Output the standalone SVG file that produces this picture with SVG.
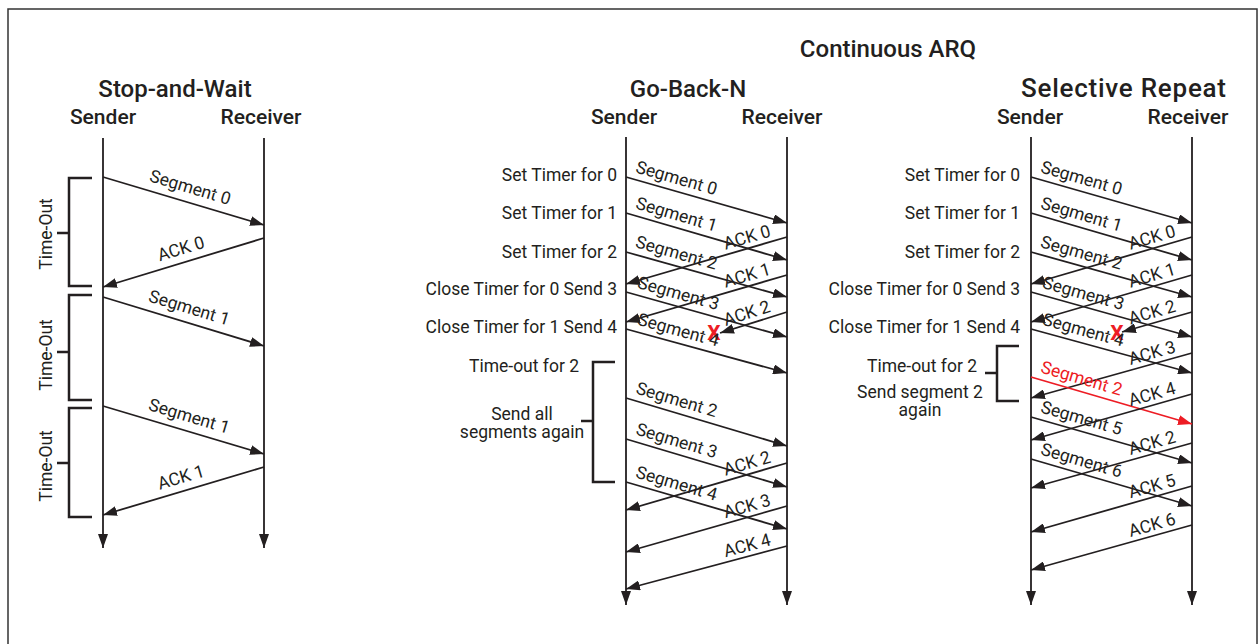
<svg xmlns="http://www.w3.org/2000/svg" width="1260" height="644" viewBox="0 0 1260 644">
<defs>
<marker id="ah" markerUnits="userSpaceOnUse" markerWidth="14" markerHeight="10" refX="14" refY="5" orient="auto"><path d="M0,0 L14,5 L0,10 z" fill="#231f20"/></marker>
<marker id="ahr" markerUnits="userSpaceOnUse" markerWidth="14" markerHeight="10" refX="14" refY="5" orient="auto"><path d="M0,0 L14,5 L0,10 z" fill="#ed1c24"/></marker>
<style>
.ln{stroke:#231f20;stroke-width:1.8;fill:none}
.a{marker-end:url(#ah)}
.red{stroke:#ed1c24;marker-end:url(#ahr)}
.br{stroke:#231f20;stroke-width:2.5;fill:none}
text{font-family:Roboto,'Liberation Sans',sans-serif;fill:#231f20}
.t1{font-size:24px;font-weight:500;text-anchor:middle}
.t2{font-size:21px;font-weight:500;text-anchor:middle}
.lb{font-size:17.5px}
.m{text-anchor:middle}
.e{text-anchor:end}
.x{font-size:21px;font-weight:700;fill:#ed1c24;text-anchor:middle}
.rt{fill:#ed1c24}
</style>
</defs>
<rect x="8" y="9" width="1249" height="700" fill="#fff" stroke="#333" stroke-width="1.5"/>

<g id="titles">
<text class="t1" x="888" y="57">Continuous ARQ</text>
<text class="t1" x="175" y="97">Stop-and-Wait</text>
<text class="t1" x="688" y="97">Go-Back-N</text>
<text class="t1" x="1123.5" y="97" style="font-size:26px" textLength="205" lengthAdjust="spacing">Selective Repeat</text>
</g>

<g id="sw-sender"><text class="t2" x="103" y="124">Sender</text><path class="ln a" d="M103,138 V548"/></g>
<g id="sw-receiver"><text class="t2" x="261" y="124">Receiver</text><path class="ln a" d="M264,138 V548"/></g>
<g id="gbn-sender"><text class="t2" x="624" y="124">Sender</text><path class="ln a" d="M626,137 V605"/></g>
<g id="gbn-receiver"><text class="t2" x="782" y="124">Receiver</text><path class="ln a" d="M787,137 V605"/></g>
<g id="sr-sender"><text class="t2" x="1030" y="124">Sender</text><path class="ln a" d="M1031,137 V605"/></g>
<g id="sr-receiver"><text class="t2" x="1188" y="124">Receiver</text><path class="ln a" d="M1192,137 V605"/></g>

<g id="sw-timeouts">
<path class="br" d="M92,178 H69 V286 H92 M69,233 H57"/>
<text class="lb m" transform="translate(52,234) rotate(-90)">Time-Out</text>
<path class="br" d="M92,295 H69 V400 H92 M69,352 H57"/>
<text class="lb m" transform="translate(52,355) rotate(-90)">Time-Out</text>
<path class="br" d="M92,408 H69 V517 H92 M69,463 H57"/>
<text class="lb m" transform="translate(52,466) rotate(-90)">Time-Out</text>
</g>

<g id="gbn-notes">
<text class="lb e" x="617" y="181">Set Timer for 0</text>
<text class="lb e" x="617" y="219">Set Timer for 1</text>
<text class="lb e" x="617" y="258">Set Timer for 2</text>
<text class="lb e" x="617" y="295">Close Timer for 0 Send 3</text>
<text class="lb e" x="617" y="333">Close Timer for 1 Send 4</text>
<text class="lb e" x="579" y="372">Time-out for 2</text>
<path class="br" d="M615,362 H593 V482 H615 M593,421 H581"/>
<text class="lb m" x="522" y="420">Send all</text>
<text class="lb m" x="522" y="438">segments again</text>
<text class="x" x="714" y="340">X</text>
</g>

<g id="sr-notes">
<text class="lb e" x="1020" y="181">Set Timer for 0</text>
<text class="lb e" x="1020" y="219">Set Timer for 1</text>
<text class="lb e" x="1020" y="258">Set Timer for 2</text>
<text class="lb e" x="1020" y="295">Close Timer for 0 Send 3</text>
<text class="lb e" x="1020" y="333">Close Timer for 1 Send 4</text>
<text class="lb e" x="977" y="372">Time-out for 2</text>
<path class="br" d="M1019,346 H997 V401 H1019 M997,373 H985"/>
<text class="lb m" x="920" y="398">Send segment 2</text>
<text class="lb m" x="920" y="416">again</text>
<text class="x" x="1117" y="340">X</text>
</g>

<g id="connectors">
<path class="ln a" d="M103,177 L264,225"/>
<text class="lb m" transform="translate(186,201.7) rotate(16.6)" y="-9">Segment 0</text>
<path class="ln a" d="M264,238 L103,287"/>
<text class="lb m" transform="translate(185,262) rotate(-16.9)" y="-8">ACK 0</text>
<path class="ln a" d="M103,297 L264,346"/>
<text class="lb m" transform="translate(185,322) rotate(16.9)" y="-9">Segment 1</text>
<path class="ln a" d="M103,406 L264,454"/>
<text class="lb m" transform="translate(185,430.4) rotate(16.6)" y="-9">Segment 1</text>
<path class="ln a" d="M264,467 L103,515"/>
<text class="lb m" transform="translate(185,490.6) rotate(-16.6)" y="-8">ACK 1</text>

<path class="ln a" d="M626,177 L787,223"/>
<text class="lb m" transform="translate(673,190.4) rotate(15.9)" y="-7">Segment 0</text>
<path class="ln a" d="M626,213 L787,260"/>
<text class="lb m" transform="translate(673,226.7) rotate(16.3)" y="-7">Segment 1</text>
<path class="ln a" d="M626,252 L787,297"/>
<text class="lb m" transform="translate(673,265.1) rotate(15.6)" y="-7">Segment 2</text>
<path class="ln a" d="M626,292 L787,337"/>
<text class="lb m" transform="translate(675,305.7) rotate(15.6)" y="-7">Segment 3</text>
<path class="ln a" d="M626,329 L787,373"/>
<text class="lb m" transform="translate(675,342.4) rotate(15.3)" y="-7">Segment 4</text>
<path class="ln a" d="M787,237 L626,284"/>
<text class="lb m" transform="translate(750,247.8) rotate(-16.3)" y="-5">ACK 0</text>
<path class="ln a" d="M787,275 L626,322"/>
<text class="lb m" transform="translate(750,285.8) rotate(-16.3)" y="-5">ACK 1</text>
<path class="ln a" d="M787,312 L720,333"/>
<text class="lb m" transform="translate(750,323.6) rotate(-17.4)" y="-5">ACK 2</text>
<path class="ln a" d="M626,398 L787,446"/>
<text class="lb m" transform="translate(673,412) rotate(16.6)" y="-7">Segment 2</text>
<path class="ln a" d="M626,439 L787,487"/>
<text class="lb m" transform="translate(673,453) rotate(16.6)" y="-7">Segment 3</text>
<path class="ln a" d="M626,482 L787,529"/>
<text class="lb m" transform="translate(673,495.7) rotate(16.3)" y="-7">Segment 4</text>
<path class="ln a" d="M787,463 L626,510"/>
<text class="lb m" transform="translate(750,473.8) rotate(-16.3)" y="-5">ACK 2</text>
<path class="ln a" d="M787,506 L626,552"/>
<text class="lb m" transform="translate(750,516.6) rotate(-15.9)" y="-5">ACK 3</text>
<path class="ln a" d="M787,546 L626,589"/>
<text class="lb m" transform="translate(750,555.9) rotate(-15)" y="-5">ACK 4</text>

<path class="ln a" d="M1031,177 L1192,223"/>
<text class="lb m" transform="translate(1078,190.4) rotate(15.9)" y="-7">Segment 0</text>
<path class="ln a" d="M1031,213 L1192,260"/>
<text class="lb m" transform="translate(1078,226.7) rotate(16.3)" y="-7">Segment 1</text>
<path class="ln a" d="M1031,252 L1192,297"/>
<text class="lb m" transform="translate(1078,265.1) rotate(15.6)" y="-7">Segment 2</text>
<path class="ln a" d="M1031,292 L1192,337"/>
<text class="lb m" transform="translate(1080,305.7) rotate(15.6)" y="-7">Segment 3</text>
<path class="ln a" d="M1031,329 L1192,373"/>
<text class="lb m" transform="translate(1080,342.4) rotate(15.3)" y="-7">Segment 4</text>
<path class="ln a" d="M1192,237 L1031,284"/>
<text class="lb m" transform="translate(1155,247.8) rotate(-16.3)" y="-5">ACK 0</text>
<path class="ln a" d="M1192,275 L1031,322"/>
<text class="lb m" transform="translate(1155,285.8) rotate(-16.3)" y="-5">ACK 1</text>
<path class="ln a" d="M1192,312 L1122,332"/>
<text class="lb m" transform="translate(1155,322.6) rotate(-16)" y="-5">ACK 2</text>
<path class="ln a" d="M1192,353 L1031,398"/>
<text class="lb m" transform="translate(1155,363.3) rotate(-15.6)" y="-5">ACK 3</text>
<path class="ln red" d="M1031,377 L1192,424"/>
<text class="lb m rt" transform="translate(1078,390.7) rotate(16.3)" y="-7">Segment 2</text>
<path class="ln a" d="M1192,394 L1031,440"/>
<text class="lb m" transform="translate(1155,404.6) rotate(-15.9)" y="-5">ACK 4</text>
<path class="ln a" d="M1031,417 L1192,463"/>
<text class="lb m" transform="translate(1078,430.4) rotate(15.9)" y="-7">Segment 5</text>
<path class="ln a" d="M1192,443 L1031,488"/>
<text class="lb m" transform="translate(1155,453.3) rotate(-15.6)" y="-5">ACK 2</text>
<path class="ln a" d="M1031,459 L1192,506"/>
<text class="lb m" transform="translate(1078,472.7) rotate(16.3)" y="-7">Segment 6</text>
<path class="ln a" d="M1192,486 L1031,532"/>
<text class="lb m" transform="translate(1155,496.6) rotate(-15.9)" y="-5">ACK 5</text>
<path class="ln a" d="M1192,525 L1031,570"/>
<text class="lb m" transform="translate(1155,535.3) rotate(-15.6)" y="-5">ACK 6</text>
</g>
</svg>
